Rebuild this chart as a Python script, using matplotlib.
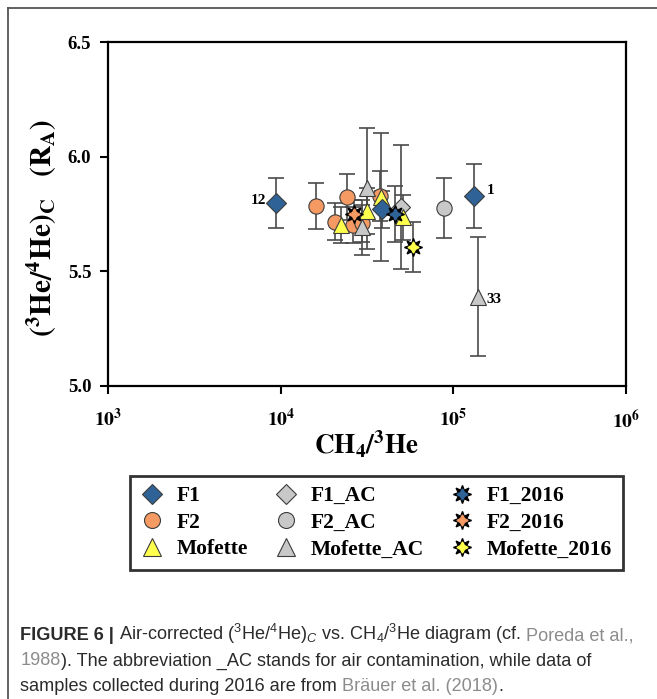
import math
import matplotlib
matplotlib.use("Agg")
import matplotlib.pyplot as plt
from matplotlib.lines import Line2D
from matplotlib.ticker import FixedLocator, FuncFormatter

# ---- data: CH4/3He, (3He/4He)c in RA, 1-sigma error ----
f1_x = [9400, 38800, 132000]
f1_y = [5.797, 5.770, 5.828]
f1_e = [0.11, 0.08, 0.14]

f2_x = [16100, 24300, 20700, 26100, 29400, 37600]
f2_y = [5.785, 5.823, 5.716, 5.702, 5.710, 5.828]
f2_e = [0.10, 0.10, 0.08, 0.08, 0.08, 0.11]

mof_x = [22300, 31500, 37900, 50900]
mof_y = [5.702, 5.764, 5.825, 5.735]
mof_e = [0.08, 0.10, 0.28, 0.10]

f1ac_x = [49700]
f1ac_y = [5.779]
f1ac_e = [0.27]

f2ac_x = [88500]
f2ac_y = [5.775]
f2ac_e = [0.13]

mofac_x = [29700, 31500, 139000]
mofac_y = [5.692, 5.862, 5.389]
mofac_e = [0.12, 0.265, 0.26]

f1_16_x = [45700]
f1_16_y = [5.75]
f1_16_e = [0.12]

f2_16_x = [26500]
f2_16_y = [5.75]
f2_16_e = [0.06]

mof16_x = [58600]
mof16_y = [5.605]
mof16_e = [0.11]

# sample labels: (text, x, y, offset in points, alignment)
sample_labels = [("12", 9400, 5.797, (-7, 2), "right"),
                 ("1", 132000, 5.828, (9, 4), "left"),
                 ("33", 139000, 5.389, (6, -2), "left")]

x_ticks = [1e3, 1e4, 1e5, 1e6]
y_ticks = [5.0, 5.5, 6.0, 6.5]

BLUE = "#2f6398"
ORANGE = "#f59a62"
YELLOW = "#ffff4d"
GREY = "#c8c8c8"
EDGE = "#3c3c3c"
ERR = "#4a4a4a"

plt.rcParams["mathtext.fontset"] = "custom"
plt.rcParams["mathtext.rm"] = "Liberation Sans"
plt.rcParams["mathtext.it"] = "Liberation Sans:italic"
plt.rcParams["mathtext.bf"] = "Liberation Sans:bold"

SERIF = {"family": "Liberation Serif", "weight": "bold"}

fig = plt.figure(figsize=(6.57, 6.99), dpi=100)
ax = fig.add_axes([0.1644, 0.4478, 0.7884, 0.4921])


def series(x, y, e, marker, size, color, z):
    ax.errorbar(x, y, yerr=e, fmt="none", ecolor=ERR, elinewidth=1.2,
                capsize=6, capthick=1.2, zorder=2)
    ax.plot(x, y, linestyle="none", marker=marker, markersize=size,
            markerfacecolor=color, markeredgecolor=EDGE,
            markeredgewidth=0.8, zorder=z)


def star(x, y, e, color):
    ax.errorbar(x, y, yerr=e, fmt="none", ecolor=ERR, elinewidth=1.2,
                capsize=6, capthick=1.2, zorder=2)
    ax.plot(x, y, linestyle="none", marker=(8, 1, 0), markersize=13,
            color="black", zorder=10)
    ax.plot(x, y, linestyle="none", marker=(4, 1, 0), markersize=8,
            color=color, zorder=11)


series(f2_x, f2_y, f2_e, "o", 11, ORANGE, 4)
series(f2ac_x, f2ac_y, f2ac_e, "o", 11, GREY, 4)
series(mofac_x, mofac_y, mofac_e, "^", 12, GREY, 5)
series(f1ac_x, f1ac_y, f1ac_e, "D", 9.5, GREY, 5)
series(mof_x, mof_y, mof_e, "^", 12, YELLOW, 6)
series(f1_x, f1_y, f1_e, "D", 10.5, BLUE, 7)
star(f2_16_x, f2_16_y, f2_16_e, ORANGE)
star(f1_16_x, f1_16_y, f1_16_e, BLUE)
star(mof16_x, mof16_y, mof16_e, YELLOW)

for txt, x, y, off, ha in sample_labels:
    ax.annotate(txt, (x, y), xytext=off, textcoords="offset points",
                ha=ha, va="center", fontsize=11, **SERIF)

ax.set_xscale("log")
ax.set_xlim(1e3, 1e6)
ax.set_ylim(5.0, 6.5)
ax.xaxis.set_major_locator(FixedLocator(x_ticks))
ax.xaxis.set_minor_locator(FixedLocator([]))
ax.yaxis.set_major_locator(FixedLocator(y_ticks))
ax.xaxis.set_major_formatter(FuncFormatter(
    lambda v, p: r"$\mathbf{10^{%d}}$" % round(math.log10(v))))
ax.yaxis.set_major_formatter(FuncFormatter(lambda v, p: "%.1f" % v))

for s in ax.spines.values():
    s.set_linewidth(1.6)
ax.tick_params(direction="out", length=6, width=1.5)
ax.tick_params(axis="x", pad=10)
ax.tick_params(axis="y", pad=6)
for lab in ax.get_yticklabels():
    lab.set_fontproperties({"family": "Liberation Serif", "weight": "bold", "size": 13.5})
for lab in ax.get_xticklabels():
    lab.set_fontsize(14)
    lab.set_math_fontfamily("stix")

ax.set_ylabel(r"$\mathbf{(^{3}He/^{4}He)_{C}\ \ \ (R_{A})}$", fontsize=21,
              math_fontfamily="stix")
ax.yaxis.set_label_coords(-0.095, 0.46)
ax.set_xlabel(r"$\mathbf{CH_{4}/^{3}He}$", fontsize=19.5, math_fontfamily="stix")
ax.xaxis.set_label_coords(0.5, -0.125)

# legend with proxy handles
def mk(marker, color, size):
    return Line2D([], [], linestyle="none", marker=marker, markersize=size,
                  markerfacecolor=color, markeredgecolor=EDGE, markeredgewidth=0.8)


def mkstar(color):
    return (Line2D([], [], linestyle="none", marker=(8, 1, 0), markersize=13, color="black"),
            Line2D([], [], linestyle="none", marker=(4, 1, 0), markersize=8, color=color))


handles = [mk("D", BLUE, 10.5), mk("o", ORANGE, 11.5), mk("^", YELLOW, 12.5),
           mk("D", GREY, 10.5), mk("o", GREY, 11.5), mk("^", GREY, 12.5),
           mkstar(BLUE), mkstar(ORANGE), mkstar(YELLOW)]
names = ["F1", "F2", "Mofette", "F1_AC", "F2_AC", "Mofette_AC",
         "F1_2016", "F2_2016", "Mofette_2016"]
leg = fig.legend(handles, names, ncol=3, loc="center",
                 bbox_to_anchor=(0.573, 0.252), frameon=True, fancybox=False,
                 edgecolor="black", handlelength=1.0, handletextpad=0.66,
                 columnspacing=1.25, labelspacing=0.3, borderpad=0.5,
                 borderaxespad=0,
                 prop={"family": "Liberation Serif", "weight": "bold", "size": 15.5})
leg.get_frame().set_linewidth(2)

# outer frame of the panel
fig.add_artist(Line2D([0.0117, 1.0], [0.988, 0.988], color="#555555", lw=1.3))
fig.add_artist(Line2D([0.0117, 0.0117], [0.0, 0.988], color="#555555", lw=1.3))

# caption, written in runs so the references can be grey
TXT = "#2b2b2b"
REF = "#8c8c8c"
CAP = {"family": "Liberation Sans", "size": 13.1}
lines = [
    [("FIGURE 6 |", TXT, "bold"),
     (r"Air-corrected ($^{3}$He/$^{4}$He)$_{\mathit{C}}$ vs. CH$_{4}$/$^{3}$He diagram (cf.", TXT, "normal"),
     ("Poreda et al.,", REF, "normal")],
    [("1988", REF, "normal"),
     ("). The abbreviation _AC stands for air contamination, while data of", TXT, "normal")],
    [("samples collected during 2016 are from", TXT, "normal"),
     ("Bräuer et al. (2018)", REF, "normal"),
     (".", TXT, "normal")],
]
gaps = [[True, True], [False], [True, False]]
line_y = [0.084, 0.048, 0.012]

renderer = fig.canvas.get_renderer()
sp = fig.text(0, 0, "a a", **CAP)
nsp = fig.text(0, 0, "aa", **CAP)
space = (sp.get_window_extent(renderer).width - nsp.get_window_extent(renderer).width) / fig.bbox.width
sp.remove()
nsp.remove()

for runs, gp, y in zip(lines, gaps, line_y):
    x = 0.031
    for i, (s, c, w) in enumerate(runs):
        t = fig.text(x, y, s, color=c, weight=w, va="baseline", **CAP)
        x += t.get_window_extent(renderer).width / fig.bbox.width
        if i < len(gp) and gp[i]:
            x += space

fig.savefig("out.png", dpi=100)
